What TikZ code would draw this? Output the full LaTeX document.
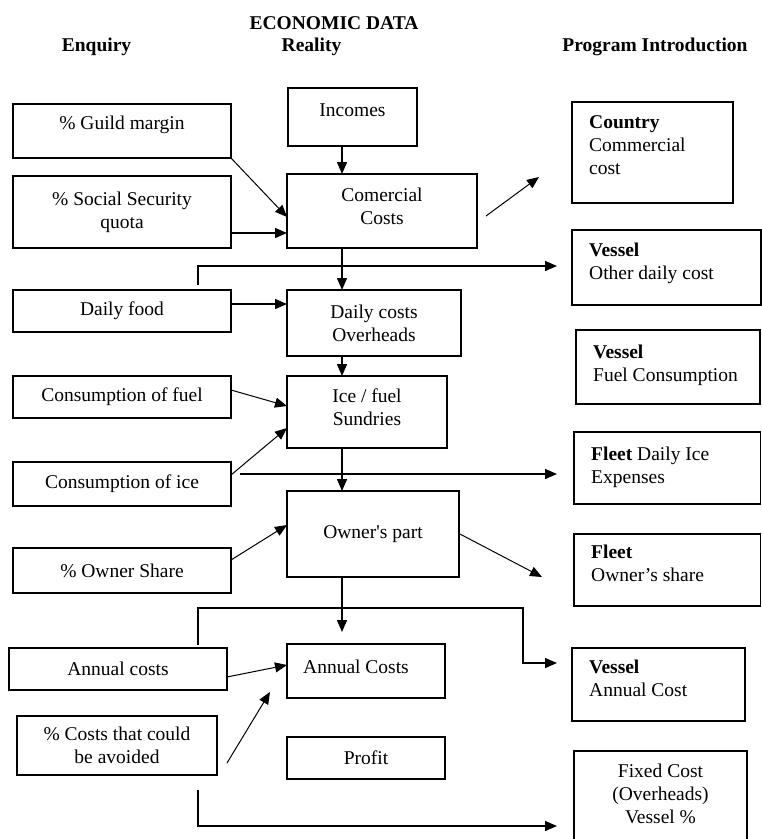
\documentclass[tikz,border=0pt]{standalone}
\usepackage{fontspec}
\setmainfont{Liberation Serif}
\usetikzlibrary{arrows.meta,calc}
\begin{document}
\begin{tikzpicture}[x=1pt,y=-1pt,
  every node/.style={font=\fontsize{19.5}{23}\selectfont},
  box/.style={draw, line width=1.8pt, rectangle, inner sep=0pt, outer sep=0pt, align=center, anchor=north west},
  hdr/.style={font=\fontsize{19.5}{23}\selectfont\bfseries, inner sep=0pt},
  arr/.style={line width=1.4pt, -{Triangle[length=12pt,width=10pt]}},
  diag/.style={line width=1pt, -{Triangle[length=12pt,width=10pt]}},
  rlab/.style={anchor=north west, align=left, inner sep=0pt, xshift=17pt, yshift=-13pt},
  clab/.style={anchor=center, align=center, inner sep=0pt}
]
\useasboundingbox (0,0) rectangle (762,839);
\clip (0,0) rectangle (762,839);

% headers
\node[hdr] (title) at (334,23) {ECONOMIC DATA};
\node[hdr] (enq) at (96.5,47) {Enquiry};
\node[hdr] (real) at (311.5,47) {Reality};
\node[hdr] (prog) at (655,47) {Program Introduction};

% middle column
\node[box, minimum width=129pt, minimum height=58pt, label={[clab,yshift=7pt]center:Incomes}] (inc) at (288,88) {};
\node[box, minimum width=190pt, minimum height=74pt, label={[clab,yshift=5pt]center:{Comercial\\Costs}}] (comm) at (287,174) {};
\node[box, minimum width=174pt, minimum height=66pt] (daily) at (287,290) {Daily costs\\Overheads};
\node[box, minimum width=160pt, minimum height=72pt, label={[clab,yshift=5pt]center:{Ice / fuel\\Sundries}}] (icef) at (287,376) {};
\node[box, minimum width=172pt, minimum height=86pt] (own) at (287,491) {Owner\textquotesingle s part};
\node[box, minimum width=158pt, minimum height=54pt, label={[clab,xshift=-10pt,yshift=4pt]center:Annual Costs}] (ann) at (287,644) {};
\node[box, minimum width=158pt, minimum height=42pt] (profit) at (287,737) {Profit};

% left column
\node[box, minimum width=218pt, minimum height=54pt, label={[clab,yshift=6pt]center:\% Guild margin}] (guild) at (13,104) {};
\node[box, minimum width=218pt, minimum height=72pt] (social) at (13,176) {\% Social Security\\quota};
\node[box, minimum width=218pt, minimum height=42pt] (food) at (13,290) {Daily food};
\node[box, minimum width=218pt, minimum height=42pt] (fuel) at (13,376) {Consumption of fuel};
\node[box, minimum width=218pt, minimum height=44pt] (cice) at (13,462) {Consumption of ice};
\node[box, minimum width=218pt, minimum height=45pt] (oshare) at (13,548) {\% Owner Share};
\node[box, minimum width=218pt, minimum height=42pt] (acost) at (9,648) {Annual costs};
\node[box, minimum width=200pt, minimum height=59pt] (avoid) at (17,716) {\% Costs that could\\be avoided};

% right column
\node[box, minimum width=161pt, minimum height=101pt, label={[rlab]north west:{\textbf{Country}\\Commercial\\cost}}] (country) at (572,102) {};
\node[box, minimum width=189pt, minimum height=75pt, label={[rlab]north west:{\textbf{Vessel}\\Other daily cost}}] (vother) at (572,230) {};
\node[box, minimum width=184pt, minimum height=74pt, label={[rlab,yshift=-2pt]north west:{\textbf{Vessel}\\Fuel Consumption}}] (vfuel) at (576,330) {};
\node[box, minimum width=186.5pt, minimum height=72pt, label={[rlab,yshift=-2pt]north west:{\textbf{Fleet} Daily Ice\\Expenses}}] (fice) at (574,432) {};
\node[box, minimum width=186.5pt, minimum height=72pt, label={[rlab,yshift=2pt]north west:{\textbf{Fleet}\\Owner’s share}}] (fown) at (574,534) {};
\node[box, minimum width=173pt, minimum height=73pt, label={[rlab,yshift=1pt]north west:{\textbf{Vessel}\\Annual Cost}}] (vann) at (572,648) {};
\node[box, minimum width=173pt, minimum height=110pt, label={[clab,yshift=12pt]center:{Fixed Cost\\(Overheads)\\Vessel \%}}] (fixed) at (574,751) {};

% connectors
\coordinate (trunk) at (342,0);
\draw[arr] (inc.south -| trunk) -- (comm.north -| trunk);
\draw[diag] (guild.south east) -- ($(comm.west)+(0,6)$);
\draw[arr] ($(social.east)+(0,21)$) coordinate (s1) -- (s1 -| comm.west);
\draw[diag] ($(comm.east)+(9,5)$) -- ($(country.west)+(-33,24.5)$);
\draw[arr] (comm.south -| trunk) -- (daily.north -| trunk);
\draw[arr] ($(food.north)+(76,-5)$) |- ($(vother.west)+(-15,-1.5)$);
\draw[arr] ($(food.east)+(0,-7)$) coordinate (f1) -- (f1 -| daily.west);
\draw[arr] (daily.south -| trunk) -- (icef.north -| trunk);
\draw[diag] ($(fuel.east)+(0,-7)$) -- ($(icef.west)+(0,-6)$);
\draw[diag] ($(cice.east)+(0,-9)$) -- ($(icef.west)+(0,16)$);
\draw[arr] ($(cice.east)+(9,-10)$) coordinate (c1) -- ($(c1 -| fice.west)+(-17,0)$);
\draw[arr] (icef.south -| trunk) -- (own.north -| trunk);
\draw[diag] ($(oshare.east)+(0,-10.5)$) -- ($(own.west)+(0,-9)$);
\draw[diag] ($(own.east)+(-1,-1)$) -- ($(fown.west)+(-32,7)$);
\draw[arr] (own.south -| trunk) -- ($(ann.north -| trunk)+(0,-12)$);
\draw[arr] ($(acost.north)+(80,-3)$) -- ++(0,-37) -| ($(vann.west)+(-49,-21.5)$) -- ($(vann.west)+(-15,-21.5)$);
\draw[diag] ($(acost.east)+(0,8)$) -- ($(ann.west)+(0,-6)$);
\draw[diag] ($(avoid.east)+(10,17.5)$) -- ($(ann.west)+(-17,21)$);
\draw[arr] ($(avoid.south)+(81,15)$) |- ($(fixed.west)+(-17,20)$);
\end{tikzpicture}
\end{document}
